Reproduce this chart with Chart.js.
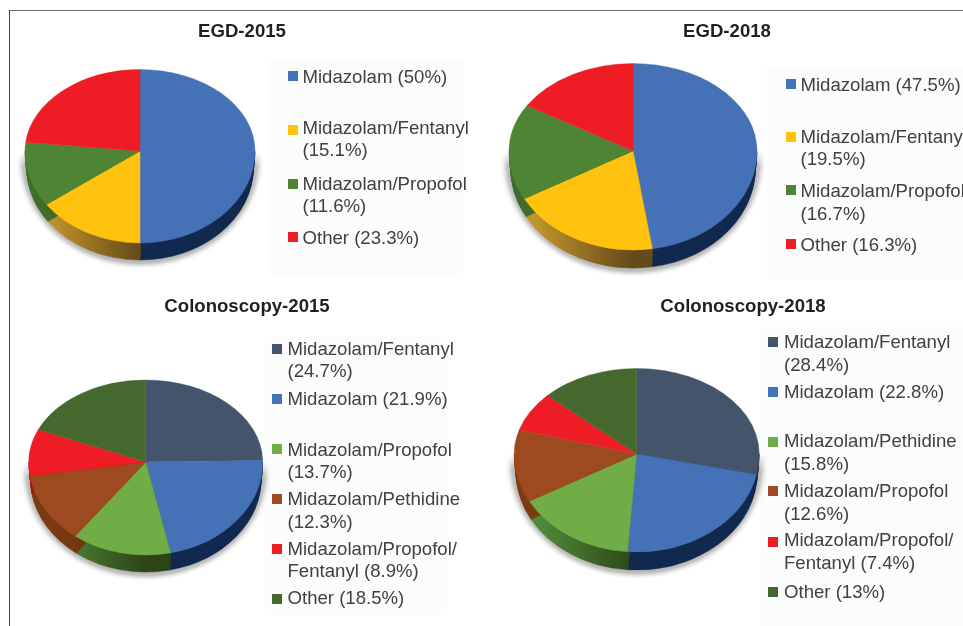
<!DOCTYPE html>
<html>
<head>
<meta charset="utf-8">
<title>Sedation pies</title>
<script src="https://cdn.jsdelivr.net/npm/chart.js@4"></script>
<style>
  html, body { margin: 0; background: #fff; width: 963px; height: 626px; overflow: hidden; font-family: "Liberation Sans", Arial, sans-serif; }
  canvas { position: absolute; }
  .frame { position: absolute; }
  .legendBg { position: absolute; background: #fbfcfc; }
  .swatch { position: absolute; width: 10px; height: 10px; }
  .line { position: absolute; font-size: 18.6px; line-height: 22px; color: #414042; white-space: nowrap; }
</style>
</head>
<body>
<div class="frame" style="left:9px;top:10px;width:954px;height:1px;background:#6d6e71"></div>
<div class="frame" style="left:9px;top:10px;width:1px;height:616px;background:#414042"></div>
<div id="wrap"></div>
<script>
// values
const egd2015Names = ["Midazolam", "Midazolam/Fentanyl", "Midazolam/Propofol", "Other"];
const egd2015Values = [50, 15.1, 11.6, 23.3];
const egd2015Lines = [["Midazolam (50%)"], ["Midazolam/Fentanyl", "(15.1%)"], ["Midazolam/Propofol", "(11.6%)"], ["Other (23.3%)"]];

const egd2018Names = ["Midazolam", "Midazolam/Fentanyl", "Midazolam/Propofol", "Other"];
const egd2018Values = [47.5, 19.5, 16.7, 16.3];
const egd2018Lines = [["Midazolam (47.5%)"], ["Midazolam/Fentanyl", "(19.5%)"], ["Midazolam/Propofol", "(16.7%)"], ["Other (16.3%)"]];

const colo2015Names = ["Midazolam/Fentanyl", "Midazolam", "Midazolam/Propofol", "Midazolam/Pethidine", "Midazolam/Propofol/Fentanyl", "Other"];
const colo2015Values = [24.7, 21.9, 13.7, 12.3, 8.9, 18.5];
const colo2015Lines = [["Midazolam/Fentanyl", "(24.7%)"], ["Midazolam (21.9%)"], ["Midazolam/Propofol", "(13.7%)"], ["Midazolam/Pethidine", "(12.3%)"], ["Midazolam/Propofol/", "Fentanyl (8.9%)"], ["Other (18.5%)"]];

const colo2018Names = ["Midazolam/Fentanyl", "Midazolam", "Midazolam/Pethidine", "Midazolam/Propofol", "Midazolam/Propofol/Fentanyl", "Other"];
const colo2018Values = [28.4, 22.8, 15.8, 12.6, 7.4, 13];
const colo2018Lines = [["Midazolam/Fentanyl", "(28.4%)"], ["Midazolam (22.8%)"], ["Midazolam/Pethidine", "(15.8%)"], ["Midazolam/Propofol", "(12.6%)"], ["Midazolam/Propofol/", "Fentanyl (7.4%)"], ["Other (13%)"]];

// colours: top face, then side [lit end, dark end]
const BLUE = "#4571b7", YELLOW = "#fec20f", GREEN = "#4f8435", RED = "#ee1c24";
const NAVY = "#44546a", LTGREEN = "#70ad47", BROWN = "#9e4a20", DKGREEN = "#45682f";
const sides = {};
sides[BLUE] = ["#12294f", "#12294f"];
sides[YELLOW] = ["#c2952c", "#654a19"];
sides[GREEN] = ["#3f6e2a", "#33591f"];
sides[RED] = ["#a01318", "#7a0e12"];
sides[NAVY] = ["#263246", "#1f2a3c"];
sides[LTGREEN] = ["#4f8a3a", "#2c4418"];
sides[BROWN] = ["#7c3a12", "#5f2c0e"];
sides[DKGREEN] = ["#2d4520", "#243819"];

const panels = [
  {
    title: "EGD-2015", names: egd2015Names, values: egd2015Values, lines: egd2015Lines,
    colors: [BLUE, YELLOW, GREEN, RED],
    box: { left: 10, top: 12, width: 464, height: 270 }, titlePad: 9,
    pie: { cx: 140, cy: 151, rx: 115, rTop: 81.5, rBottom: 92, depth: 17 },
    bg: { left: 270, top: 60, width: 193, height: 214 },
    swatchX: 288, textX: 302.5,
    swatchY: [76, 130, 184, 237],
    lineY: [[76.7], [128, 150], [183.7, 206], [237.7]]
  },
  {
    title: "EGD-2018", names: egd2018Names, values: egd2018Values, lines: egd2018Lines,
    colors: [BLUE, YELLOW, GREEN, RED],
    box: { left: 490, top: 12, width: 474, height: 270 }, titlePad: 9,
    pie: { cx: 633, cy: 151, rx: 124, rTop: 87.5, rBottom: 99, depth: 18 },
    bg: { left: 767, top: 67, width: 196, height: 213 },
    swatchX: 786, textX: 800.5,
    swatchY: [83.7, 137, 190, 244],
    lineY: [[84.7], [136.7, 158.7], [191.3, 213.7], [245]]
  },
  {
    title: "Colonoscopy-2015", names: colo2015Names, values: colo2015Values, lines: colo2015Lines,
    colors: [NAVY, BLUE, LTGREEN, BROWN, RED, DKGREEN],
    box: { left: 10, top: 292, width: 474, height: 334 }, titlePad: 4,
    pie: { cx: 145.7, cy: 462, rx: 117, rTop: 82, rBottom: 93, depth: 17 },
    bg: { left: 265, top: 337, width: 182, height: 278 },
    swatchX: 272, textX: 287.5,
    swatchY: [348.7, 398.7, 448.7, 498.7, 548.7, 598.7],
    lineY: [[349, 371], [398.7], [449.7, 472], [498.7, 521.7], [548.7, 571], [598.3]]
  },
  {
    title: "Colonoscopy-2018", names: colo2018Names, values: colo2018Values, lines: colo2018Lines,
    colors: [NAVY, BLUE, LTGREEN, BROWN, RED, DKGREEN],
    box: { left: 500, top: 292, width: 486, height: 334 }, titlePad: 4,
    pie: { cx: 636.7, cy: 454, rx: 122.5, rTop: 85.5, rBottom: 98, depth: 18 },
    bg: { left: 760, top: 327, width: 203, height: 299 },
    swatchX: 768, textX: 784,
    swatchY: [342, 392, 442, 491.3, 541.7, 591.7],
    lineY: [[342.3, 365], [391.7], [441, 463.7], [491, 513.7], [540, 563], [592]]
  }
];

// tilted pie with a rim: squash the arcs, a little more above the centre than below
const tiltPlugin = {
  id: "tilt",
  beforeDatasetsDraw(chart, args, opts) {
    const ctx = chart.ctx;
    const p = opts.pie;
    const box = opts.box;
    const arcs = chart.getDatasetMeta(0).data;
    const cx = p.cx - box.left;
    const cy = Math.round(p.cy - box.top);
    const W = chart.width, H = chart.height;

    function drawHalf(arc, radiusY, dy, clipY, clipH, fill, shrink) {
      ctx.save();
      ctx.beginPath();
      ctx.rect(0, clipY, W, clipH);
      ctx.clip();
      ctx.translate(cx, cy + dy);
      ctx.scale(shrink || 1, radiusY / p.rx);
      ctx.translate(-arc.x, -arc.y);
      const keep = arc.options;
      if (fill) arc.options = Object.assign({}, keep, { backgroundColor: fill, borderColor: fill });
      arc.draw(ctx);
      arc.options = keep;
      ctx.restore();
    }

    // grey glow under the lower half, fading out towards the sides of the disc
    const spread = 10;
    const glowRy = p.rBottom + p.depth / 2 + spread;
    ctx.save();
    ctx.beginPath();
    ctx.rect(0, cy, W, H - cy);
    ctx.clip();
    ctx.save();
    ctx.translate(cx, cy + p.depth / 2);
    ctx.scale(1, glowRy / (p.rx + spread));
    const glow = ctx.createRadialGradient(0, 0, p.rx - 3, 0, 0, p.rx + spread);
    glow.addColorStop(0, "rgba(165,165,165,1)");
    glow.addColorStop(0.45, "rgba(195,195,195,0.95)");
    glow.addColorStop(1, "rgba(255,255,255,0)");
    ctx.fillStyle = glow;
    ctx.beginPath();
    ctx.arc(0, 0, p.rx + spread, 0, Math.PI * 2);
    ctx.fill();
    ctx.restore();
    const fade = ctx.createLinearGradient(0, cy, 0, cy + 16);
    fade.addColorStop(0, "rgba(0,0,0,0)");
    fade.addColorStop(1, "rgba(0,0,0,1)");
    ctx.globalCompositeOperation = "destination-in";
    ctx.fillStyle = fade;
    ctx.fillRect(0, cy, W, H - cy);
    ctx.restore();

    // rim, stacked up from the bottom, narrowing a bit towards its lower edge
    arcs.forEach((a, i) => {
      const pair = sides[opts.colors[i]];
      const g = ctx.createLinearGradient(a.x - p.rx * 0.8, 0, a.x, 0);
      g.addColorStop(0, pair[0]);
      g.addColorStop(1, pair[1]);
      for (let d = p.depth; d > 0; d--) {
        drawHalf(a, p.rBottom, d, cy, H - cy, g, 1 - 0.015 * d / p.depth);
      }
    });

    // top face
    arcs.forEach(a => {
      drawHalf(a, p.rTop, 0, 0, cy);
      drawHalf(a, p.rBottom, 0, cy, H - cy);
    });
    return false;
  }
};

const wrap = document.getElementById("wrap");

function addDiv(cls, left, top, css) {
  const d = document.createElement("div");
  d.className = cls;
  d.style.left = left + "px";
  d.style.top = top + "px";
  if (css) Object.assign(d.style, css);
  wrap.appendChild(d);
  return d;
}

panels.forEach(panel => {
  addDiv("legendBg", panel.bg.left, panel.bg.top, { width: panel.bg.width + "px", height: panel.bg.height + "px" });

  const canvas = document.createElement("canvas");
  canvas.width = panel.box.width;
  canvas.height = panel.box.height;
  canvas.style.left = panel.box.left + "px";
  canvas.style.top = panel.box.top + "px";
  wrap.appendChild(canvas);

  new Chart(canvas.getContext("2d"), {
    type: "pie",
    data: {
      labels: panel.names,
      datasets: [{
        data: panel.values,
        backgroundColor: panel.colors,
        borderColor: panel.colors,
        borderWidth: 0.5,
        radius: panel.pie.rx
      }]
    },
    options: {
      responsive: false,
      animation: false,
      plugins: {
        legend: { display: false },
        tooltip: { enabled: false },
        title: {
          display: true,
          text: panel.title,
          color: "#231f20",
          font: { family: "'Liberation Sans', Arial, sans-serif", size: 18.6, weight: "bold" },
          padding: { top: panel.titlePad, bottom: 0 }
        },
        tilt: { pie: panel.pie, box: panel.box, colors: panel.colors }
      }
    },
    plugins: [tiltPlugin]
  });

  panel.lines.forEach((entry, i) => {
    addDiv("swatch", panel.swatchX, panel.swatchY[i] - 5, { background: panel.colors[i] });
    entry.forEach((text, j) => {
      const d = addDiv("line", panel.textX, panel.lineY[i][j] - 11);
      d.textContent = text;
    });
  });
});
</script>
</body>
</html>
